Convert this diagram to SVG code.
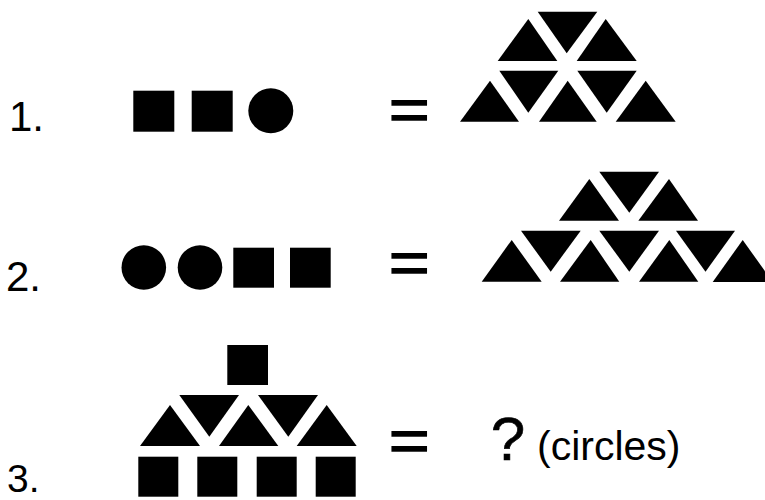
<svg xmlns="http://www.w3.org/2000/svg" width="765" height="500" viewBox="0 0 765 500">
<style>
.s{fill:#000}
.t{font-family:"Liberation Sans",Arial,sans-serif;fill:#000}
.lab{font-size:42px}
.eq{font-size:60px;stroke:#000;stroke-width:1.3px}
</style>
<rect width="765" height="500" fill="#fff"/>
<g id="row1">
<text class="t lab" x="9" y="130.7">1.</text>
<rect class="s" x="133.3" y="90.7" width="41" height="41"/>
<rect class="s" x="191.7" y="90.7" width="41" height="41"/>
<circle class="s" cx="270.8" cy="110.8" r="22.5"/>
<text class="t eq" x="409.2" y="130" text-anchor="middle" textLength="41" lengthAdjust="spacingAndGlyphs">=</text>
<polygon class="s" points="497.7,61 528.3,19 557.3,61"/>
<polygon class="s" points="537.7,11.7 597.3,11.7 566.7,53.3"/>
<polygon class="s" points="576.7,61 605.7,19 636.7,61"/>
<polygon class="s" points="460,121.7 490,80.7 519,121.7"/>
<polygon class="s" points="499.3,70.7 558.3,70.7 528.3,112.7"/>
<polygon class="s" points="539,121.7 567.7,80.7 596.7,121.7"/>
<polygon class="s" points="577.3,70.7 636.7,70.7 606.7,112.7"/>
<polygon class="s" points="615.7,121.7 645.7,80.7 675.7,121.7"/>
</g>
<g id="row2">
<text class="t lab" x="6" y="290.7">2.</text>
<circle class="s" cx="143.8" cy="267.5" r="22.3"/>
<circle class="s" cx="200" cy="267.5" r="22.3"/>
<rect class="s" x="233.3" y="247.7" width="40.7" height="40"/>
<rect class="s" x="290" y="247.7" width="40.7" height="40"/>
<text class="t eq" x="409.2" y="282.5" text-anchor="middle" textLength="41" lengthAdjust="spacingAndGlyphs">=</text>
<polygon class="s" points="559,220.7 589.3,179 619,220.7"/>
<polygon class="s" points="599.3,171.7 659,171.7 629.3,212.7"/>
<polygon class="s" points="638.3,220.7 669,179 698,220.7"/>
<polygon class="s" points="481.7,281.7 511.7,240 541.7,281.7"/>
<polygon class="s" points="521,230.7 580.7,230.7 550.7,271.7"/>
<polygon class="s" points="560,281.7 590.7,240 619.3,281.7"/>
<polygon class="s" points="599.3,230.7 659,230.7 629.3,271.7"/>
<polygon class="s" points="639,281.7 669.3,240 698.3,281.7"/>
<polygon class="s" points="676,230.7 735,230.7 705.5,271.7"/>
<polygon class="s" points="712.7,282 742.7,240 772.7,282"/>
</g>
<g id="row3">
<text class="t" x="7" y="491.5" font-size="39">3.</text>
<rect class="s" x="227.3" y="345" width="40.7" height="40"/>
<polygon class="s" points="179.3,395 239,395 209.3,436.7"/>
<polygon class="s" points="258,395 318,395 288.3,436.7"/>
<polygon class="s" points="140,446 170,405 200,446"/>
<polygon class="s" points="219,446 248.3,405 278.3,446"/>
<polygon class="s" points="296.7,446 326.7,405 356.7,446"/>
<rect class="s" x="138.3" y="456.7" width="40" height="40"/>
<rect class="s" x="197.3" y="456.7" width="40" height="40"/>
<rect class="s" x="256.7" y="456.7" width="40" height="40"/>
<rect class="s" x="315.7" y="456.7" width="40" height="40"/>
<text class="t eq" x="409.2" y="460.5" text-anchor="middle" textLength="41" lengthAdjust="spacingAndGlyphs">=</text>
<text class="t" x="490.7" y="460" font-size="62" stroke="#000" stroke-width="0.6">?</text>
<text class="t" x="537" y="460" font-size="41">(circles)</text>
</g>
</svg>
